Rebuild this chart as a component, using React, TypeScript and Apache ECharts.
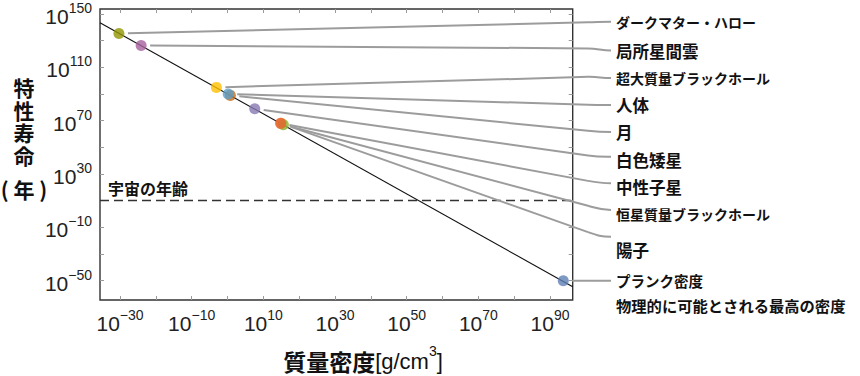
import React, { useEffect, useRef } from 'react';
import * as echarts from 'echarts';

// ---- data (log10 values) ----
const objectNames = ['ダークマター・ハロー', '局所星間雲', '超大質量ブラックホール', '人体', '月', '白色矮星', '中性子星', '恒星質量ブラックホール', '陽子', 'プランク密度'];
const logDensity = [-30.3, -24.1, -3.1, 0.2, 0.8, 7.6, 14.8, 15.6, 15.0, 93.7];
const logLifetime = [135.5, 126.5, 95, 90, 89, 79, 68, 67, 68, -50];
const pointColors = ['#929600', '#A5609D', '#FFBF00', '#5D9EC7', '#C56E1A', '#8778B3', '#EB6235', '#8FB032', '#E19C24', '#5E81B5'];
const planckNote = '物理的に可能とされる最高の密度';
const xTickExponents = [-30, -20, -10, 0, 10, 20, 30, 40, 50, 60, 70, 80, 90];
const xLabelExponents = [-30, -10, 10, 30, 50, 70, 90];
const yTickExponents = [-50, -30, -10, 10, 30, 50, 70, 90, 110, 130, 150];
const yLabelExponents = [-50, -10, 30, 70, 110, 150];
const trendDensity = [-35.58, 96.33];
const trendLifetime = [143.5, -54.5];
const universeAgeLog = 10.14;
const universeAgeLabel = '宇宙の年齢';
const yTitleChars = ['特', '性', '寿', '命'];
const yUnit = '( 年 )';

// ---- layout (pixels) ----
const X_MIN = -35.58;
const X_MAX = 96.33;
const Y_MIN = -64.5;
const Y_MAX = 153.8;
const FRAME_RIGHT = 572.7;
const connectorFrameY = [22.7, 48.3, 77.3, 104.3, 129.3, 153.3, 178, 201.7, 226.7, 280.7];
const connectorEndY = [21.7, 50.5, 78, 105, 132, 156.7, 183.3, 210, 236.7, 280.7];
const labelCenterY = [21.7, 50.7, 78, 105, 132, 160, 187, 214.3, 250, 280];
const labelFontSize = [14, 16.5, 14, 16.5, 16.5, 16.5, 16.5, 14, 16.5, 14.5];
const yTitleCenterY = [87, 109.5, 132, 154.5];

const CJK = '"Noto Sans CJK JP", "Noto Sans", sans-serif';
const LATIN = '"Liberation Sans", Arial, sans-serif';

const expLabel = (v: number) => `{b|10}{s|${v < 0 ? '\u2212' + -v : v}}`;
const expRich = {
  b: { fontSize: 21, fontFamily: LATIN, color: '#222', lineHeight: 26, verticalAlign: 'bottom' },
  s: { fontSize: 14, fontFamily: LATIN, color: '#222', lineHeight: 16, verticalAlign: 'top' },
};

export default function App() {
  const ref = useRef<HTMLDivElement>(null);
  useEffect(() => {
    document.body.style.margin = '0';
    const chart = echarts.init(ref.current!, undefined, { renderer: 'svg' });
    const tickStyle = { show: true, inside: true, length: 4, lineStyle: { color: '#9a9a9a', width: 1 } };
    const hiddenLine = { show: false, onZero: false };
    const scatterData = [] as any[];
    for (let i = objectNames.length - 1; i >= 0; i--) {
      scatterData.push({ name: objectNames[i], value: [logDensity[i], logLifetime[i]], itemStyle: { color: pointColors[i] } });
    }
    chart.setOption({
      animation: false,
      grid: { left: 100, top: 9, right: 860 - FRAME_RIGHT, bottom: 76, show: true, borderColor: '#333', borderWidth: 1.4, backgroundColor: 'transparent' },
      xAxis: [
        {
          type: 'value', min: X_MIN, max: X_MAX, position: 'bottom',
          axisLine: hiddenLine, splitLine: { show: false },
          axisTick: { ...tickStyle, customValues: xTickExponents },
          axisLabel: { customValues: xLabelExponents, formatter: expLabel, rich: expRich, margin: 8 },
        },
        {
          type: 'value', min: X_MIN, max: X_MAX, position: 'top',
          axisLine: hiddenLine, splitLine: { show: false },
          axisTick: { ...tickStyle, customValues: xTickExponents },
          axisLabel: { show: false },
        },
      ],
      yAxis: [
        {
          type: 'value', min: Y_MIN, max: Y_MAX, position: 'left',
          axisLine: hiddenLine, splitLine: { show: false },
          axisTick: { ...tickStyle, customValues: yTickExponents },
          axisLabel: { customValues: yLabelExponents, formatter: expLabel, rich: expRich, margin: 8 },
        },
        {
          type: 'value', min: Y_MIN, max: Y_MAX, position: 'right',
          axisLine: hiddenLine, splitLine: { show: false },
          axisTick: { ...tickStyle, customValues: yTickExponents },
          axisLabel: { show: false },
        },
      ],
      series: [
        {
          type: 'line', name: 'trend', data: trendDensity.map((x, i) => [x, trendLifetime[i]]),
          symbol: 'none', lineStyle: { color: '#111', width: 1.1 }, z: 2,
        },
        {
          type: 'line', name: universeAgeLabel, data: [[X_MIN, universeAgeLog], [X_MAX, universeAgeLog]],
          symbol: 'none', lineStyle: { color: '#333', width: 1.3, type: [9, 5] }, z: 2,
        },
        {
          type: 'scatter', data: scatterData, symbolSize: 11, z: 5,
        },
      ],
    });

    const graphics: any[] = [];
    for (let i = 0; i < objectNames.length; i++) {
      const [px, py] = chart.convertToPixel({ xAxisIndex: 0, yAxisIndex: 0 }, [logDensity[i], logLifetime[i]]) as number[];
      const fy = connectorFrameY[i];
      const ey = connectorEndY[i];
      const dx = FRAME_RIGHT - px;
      const dy = fy - py;
      const len = Math.sqrt(dx * dx + dy * dy);
      const sx = px + (dx / len) * 9;
      const sy = py + (dy / len) * 9;
      const yAt = (x: number) => py + (dy * (x - px)) / dx;
      graphics.push({
        type: 'line', silent: true, z: 3,
        shape: { x1: sx, y1: sy, x2: 588, y2: yAt(588) },
        style: { stroke: '#9c9c9c', lineWidth: 2 },
      });
      graphics.push({
        type: 'bezierCurve', silent: true, z: 3,
        shape: { x1: 588, y1: yAt(588), cpx1: 598, cpy1: yAt(598), cpx2: 601, cpy2: ey, x2: 611, y2: ey },
        style: { stroke: '#9c9c9c', lineWidth: 2, fill: 'none' },
      });
      graphics.push({
        type: 'text', x: 616, y: labelCenterY[i], silent: true,
        style: { text: objectNames[i], font: `bold ${labelFontSize[i]}px ${CJK}`, fill: '#111', verticalAlign: 'middle', align: 'left' },
      });
    }
    graphics.push({
      type: 'text', x: 616, y: 305, silent: true,
      style: { text: planckNote, font: `bold 15.3px ${CJK}`, fill: '#111', verticalAlign: 'middle', align: 'left' },
    });
    graphics.push({
      type: 'text', x: 108, y: 188, silent: true,
      style: { text: universeAgeLabel, font: `bold 16px ${CJK}`, fill: '#111', verticalAlign: 'middle', align: 'left' },
    });
    yTitleChars.forEach((ch, k) => {
      graphics.push({
        type: 'text', x: 24, y: yTitleCenterY[k], silent: true,
        style: { text: ch, font: `bold 21px ${CJK}`, lineHeight: 21, fill: '#111', verticalAlign: 'middle', align: 'center' },
      });
    });
    graphics.push({
      type: 'text', x: 24, y: 189, silent: true,
      style: { text: yUnit, font: `bold 21px ${CJK}`, lineHeight: 22, fill: '#111', verticalAlign: 'middle', align: 'center' },
    });
    graphics.push({
      type: 'text', x: 363, y: 358, silent: true,
      style: {
        text: '{c|質量密度}{l|[g/cm}{s|3}{l|]}',
        align: 'center', verticalAlign: 'middle',
        rich: {
          c: { fontSize: 23, fontWeight: 'bold', fontFamily: CJK, fill: '#111', lineHeight: 28, verticalAlign: 'bottom' },
          l: { fontSize: 22, fontFamily: LATIN, fill: '#111', lineHeight: 28, verticalAlign: 'bottom' },
          s: { fontSize: 14, fontFamily: LATIN, fill: '#111', lineHeight: 18, verticalAlign: 'top' },
        },
      },
    });
    chart.setOption({ graphic: graphics });
    return () => chart.dispose();
  }, []);
  return <div ref={ref} style={{ width: 860, height: 376 }} />;
}
